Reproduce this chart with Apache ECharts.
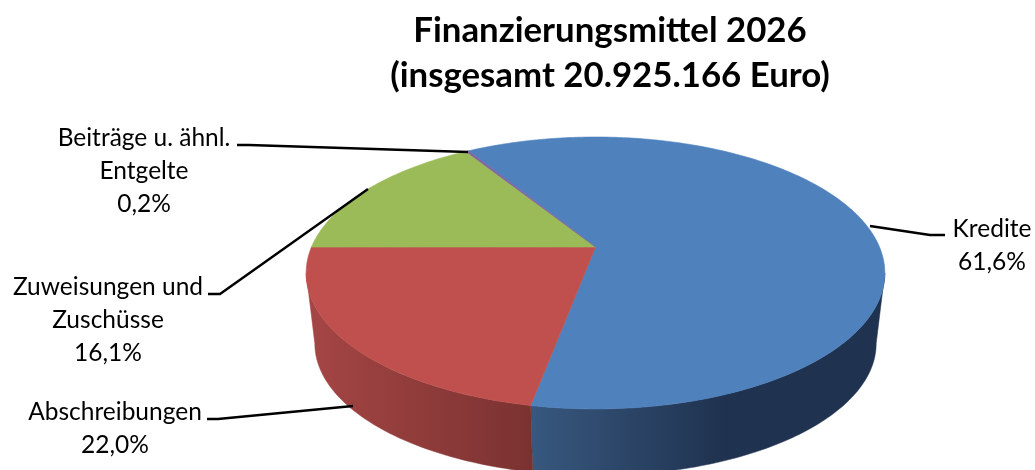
<!DOCTYPE html>
<html>
<head>
<meta charset="utf-8">
<script src="https://cdn.jsdelivr.net/npm/echarts@6/dist/echarts.min.js"></script>
<style>
html, body { margin: 0; padding: 0; background: #fff; }
#chart { width: 1035px; height: 470px; }
</style>
</head>
<body>
<div id="chart"></div>
<script>
// Daten
var categories = ["Kredite", "Abschreibungen", "Zuweisungen und\nZuschüsse", "Beiträge u. ähnl.\nEntgelte"];
var values = [61.6, 22.0, 16.1, 0.2];

var total = values.reduce(function(a, b) { return a + b; }, 0);
var startDeg = -31.3;

// Farben der Flächen und Seitenwände
var topColors = ["#4f81bd", "#c0504d", "#9bbb59", "#8064a2"];
var wallColors = [
    { x: 531, x2: 725, stops: ["#38587f", "#1f324f"] },
    { x: 306, x2: 531, stops: ["#a54645", "#7a3231"] },
    { x: 306, x2: 400, stops: ["#7d9a46", "#6f8a3e"] },
    { x: 306, x2: 400, stops: ["#5f4a7a", "#5f4a7a"] }
];

// Beschriftung und Führungslinien
var labelPos = [
    { x: 992, y: 246, line: [[870, 226], [930, 235], [945, 235]] },
    { x: 115, y: 429, line: [[207, 419], [218, 419], [353, 406]] },
    { x: 108, y: 320, line: [[208, 294], [220, 294], [368, 189]] },
    { x: 144, y: 171, line: [[237, 145], [249, 145], [468, 152]] }
];

// Perspektive der Kreisebene
var K = 0.191;
var topPlane = { cx: 595.5, cy: 247, a: 284, b: 131 };
var bottomPlane = { cx: 595.5, cy: 318.5, a: 275.5, b: 127 };
// sichtbarer Bereich der Seitenwand (Winkel der Außenkanten)
var wallFrom = 101, wallTo = 259;

function project(plane, deg) {
    var r = deg * Math.PI / 180;
    var u = Math.sin(r), v = -Math.cos(r);
    var w = 1 - K * v;
    return [plane.cx + plane.a * u / w, plane.cy + plane.b * v / w];
}

function arc(plane, from, to) {
    var pts = [];
    var n = Math.max(2, Math.ceil(Math.abs(to - from)));
    for (var i = 0; i <= n; i++) {
        pts.push(project(plane, from + (to - from) * i / n));
    }
    return pts;
}

function sliceRange(index) {
    var before = 0;
    for (var i = 0; i < index; i++) before += values[i];
    return [startDeg + before / total * 360, startDeg + (before + values[index]) / total * 360];
}

function renderWall(params, api) {
    var i = params.dataIndex;
    var range = sliceRange(i);
    var from = Math.max(range[0], wallFrom);
    var to = Math.min(range[1], wallTo);
    if (from >= to) return null;
    var c = wallColors[i];
    var fill = {
        type: "linear", global: true, x: c.x, y: 0, x2: c.x2, y2: 0,
        colorStops: [{ offset: 0, color: c.stops[0] }, { offset: 1, color: c.stops[1] }]
    };
    return {
        type: "polygon",
        shape: { points: arc(topPlane, from, to).concat(arc(bottomPlane, from, to).reverse()) },
        style: { fill: fill, stroke: fill, lineWidth: 0.5 }
    };
}

function renderTop(params, api) {
    var i = params.dataIndex;
    var range = sliceRange(i);
    var pts = [[topPlane.cx, topPlane.cy]].concat(arc(topPlane, range[0], range[1]));
    return {
        type: "polygon",
        shape: { points: pts },
        style: { fill: topColors[i], stroke: topColors[i], lineWidth: 0.6 }
    };
}

function renderLabel(params, api) {
    var i = params.dataIndex;
    var p = labelPos[i];
    var txt = categories[i] + "\n" + api.value(0).toFixed(1).replace(".", ",") + "%";
    return {
        type: "group",
        children: [{
            type: "polyline",
            shape: { points: p.line },
            style: { fill: null, stroke: "#000", lineWidth: 2.4 }
        }, {
            type: "text",
            x: p.x,
            y: p.y,
            style: {
                text: txt,
                align: "center",
                verticalAlign: "middle",
                fill: "#000",
                font: "24.5px Lato",
                lineHeight: 33
            }
        }]
    };
}

var myChart = echarts.init(document.getElementById("chart"), null, { renderer: "canvas" });
myChart.setOption({
    animation: false,
    backgroundColor: "#fff",
    title: {
        text: "Finanzierungsmittel 2026\n(insgesamt 20.925.166 Euro)",
        left: 605,
        top: 4,
        textAlign: "center",
        textStyle: {
            fontFamily: "Lato",
            fontWeight: "bold",
            fontSize: 34.8,
            lineHeight: 44.5,
            color: "#000"
        }
    },
    series: [
        { type: "custom", coordinateSystem: "none", silent: true, data: values, renderItem: renderWall, z: 1 },
        { type: "custom", coordinateSystem: "none", silent: true, data: values, renderItem: renderTop, z: 2 },
        { type: "custom", coordinateSystem: "none", silent: true, data: values, renderItem: renderLabel, z: 3 }
    ]
});
</script>
</body>
</html>
